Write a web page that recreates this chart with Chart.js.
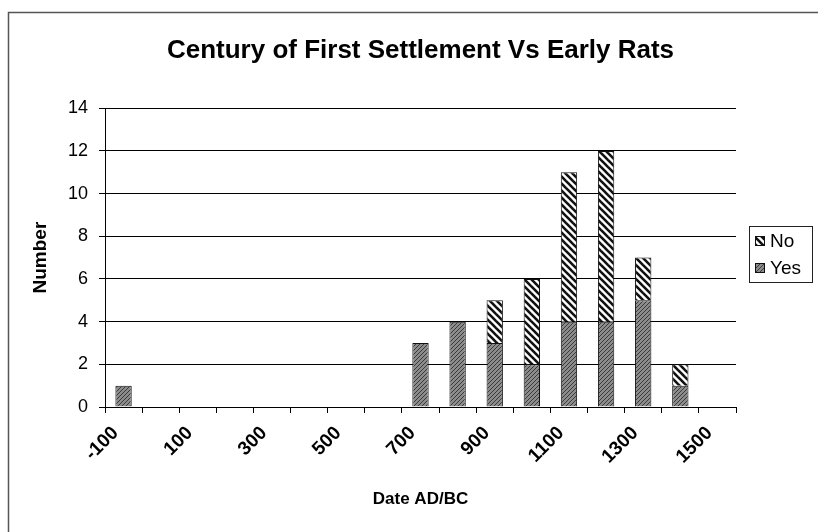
<!DOCTYPE html>
<html>
<head>
<meta charset="utf-8">
<script src="https://cdn.jsdelivr.net/npm/chart.js@4"></script>
<style>
  body { margin: 0; background: #fff; }
  #wrap { width: 818px; height: 532px; position: relative; }
</style>
</head>
<body>
<div id="wrap"><canvas id="myChart" width="818" height="532"></canvas></div>
<script>
// century categories
const centuries = ['-100', '0', '100', '200', '300', '400', '500', '600', '700', '800',
                   '900', '1000', '1100', '1200', '1300', '1400', '1500'];
const yesCounts = [1, 0, 0, 0, 0, 0, 0, 0, 3, 4, 3, 2, 4, 4, 5, 1, 0];
const noCounts  = [0, 0, 0, 0, 0, 0, 0, 0, 0, 0, 2, 4, 7, 8, 2, 1, 0];

const FONT = '"Liberation Sans", Arial, sans-serif';

// hatch fills like the old excel chart
function makePattern(kind) {
    const c = document.createElement('canvas');
    const ctx = c.getContext('2d');
    if (kind === 'no') {
        c.width = 7; c.height = 7;
        ctx.fillStyle = '#fff';
        ctx.fillRect(0, 0, 7, 7);
        ctx.strokeStyle = '#111';
        ctx.lineWidth = 2.6;
        for (let k = -7; k <= 14; k += 7) {
            ctx.beginPath();
            ctx.moveTo(k - 1, -1);
            ctx.lineTo(k + 8, 8);
            ctx.stroke();
        }
    } else {
        c.width = 4; c.height = 4;
        ctx.fillStyle = '#8c8c8c';
        ctx.fillRect(0, 0, 4, 4);
        ctx.strokeStyle = '#3a3a3a';
        ctx.lineWidth = 1;
        for (let k = 0; k <= 8; k += 4) {
            ctx.beginPath();
            ctx.moveTo(k + 1, -1);
            ctx.lineTo(k - 5, 5);
            ctx.stroke();
        }
    }
    return document.createElement('canvas').getContext('2d').createPattern(c, 'repeat');
}

// outer frame + boxed legend on the right
const frameAndLegend = {
    id: 'frameAndLegend',
    afterDraw(chart) {
        const ctx = chart.ctx;
        ctx.save();
        ctx.strokeStyle = '#555';
        ctx.lineWidth = 1.5;
        ctx.beginPath();
        ctx.moveTo(8.5, 532);
        ctx.lineTo(8.5, 12.5);
        ctx.lineTo(818, 12.5);
        ctx.stroke();

        const bx = 749, by = 226, bw = 63, bh = 56;
        ctx.fillStyle = '#fff';
        ctx.fillRect(bx, by, bw, bh);
        ctx.strokeStyle = '#222';
        ctx.lineWidth = 1;
        ctx.strokeRect(bx + 0.5, by + 0.5, bw, bh);

        const sets = chart.data.datasets.slice().reverse();
        ctx.font = '19px ' + FONT;
        ctx.textBaseline = 'middle';
        sets.forEach((ds, i) => {
            const cy = by + 15 + i * 27;
            ctx.fillStyle = ds.backgroundColor;
            ctx.fillRect(bx + 6, cy - 5, 10, 10);
            ctx.strokeStyle = '#111';
            ctx.strokeRect(bx + 6.5, cy - 4.5, 9, 9);
            ctx.fillStyle = '#000';
            ctx.fillText(ds.label, bx + 21, cy + 1);
        });
        ctx.restore();
    }
};

Chart.defaults.font.family = FONT;
Chart.defaults.color = '#000';

new Chart(document.getElementById('myChart'), {
    type: 'bar',
    data: {
        labels: centuries,
        datasets: [{
            label: 'Yes',
            data: yesCounts,
            backgroundColor: makePattern('yes'),
            borderColor: '#111',
            borderWidth: 1,
            categoryPercentage: 1,
            barPercentage: 0.44
        }, {
            label: 'No',
            data: noCounts,
            backgroundColor: makePattern('no'),
            borderColor: '#111',
            borderWidth: 1,
            categoryPercentage: 1,
            barPercentage: 0.44
        }]
    },
    options: {
        responsive: false,
        animation: false,
        layout: { padding: { left: 10, right: 82, top: 35, bottom: 0 } },
        plugins: {
            title: {
                display: true,
                fullSize: false,
                text: 'Century of First Settlement Vs Early Rats',
                font: { size: 26, weight: 'bold' },
                lineHeight: 1.2,
                padding: { top: 0, bottom: 42 }
            },
            legend: { display: false },
            tooltip: { enabled: false }
        },
        scales: {
            x: {
                stacked: true,
                afterFit: (s) => { s.height = 125; },
                grid: { drawOnChartArea: false, color: '#000', tickLength: 6, offset: true },
                border: { color: '#000' },
                ticks: {
                    autoSkip: false,
                    maxRotation: 45,
                    minRotation: 45,
                    padding: 9,
                    labelOffset: -8,
                    font: { size: 19, weight: 'bold' },
                    callback: function (v, i) { return i % 2 === 0 ? centuries[i] : ''; }
                },
                title: {
                    display: true,
                    text: 'Date AD/BC',
                    font: { size: 17, weight: 'bold' },
                    padding: { top: 0, bottom: 22 }
                }
            },
            y: {
                stacked: true,
                min: 0,
                max: 14,
                afterFit: (s) => { s.width = 95; },
                ticks: { stepSize: 2, font: { size: 18 }, padding: 11 },
                grid: { color: '#000', tickLength: 6 },
                border: { color: '#000' },
                title: {
                    display: true,
                    text: 'Number',
                    font: { size: 19, weight: 'bold' },
                    padding: { top: 19, bottom: 0 }
                }
            }
        }
    },
    plugins: [frameAndLegend]
});
</script>
</body>
</html>
